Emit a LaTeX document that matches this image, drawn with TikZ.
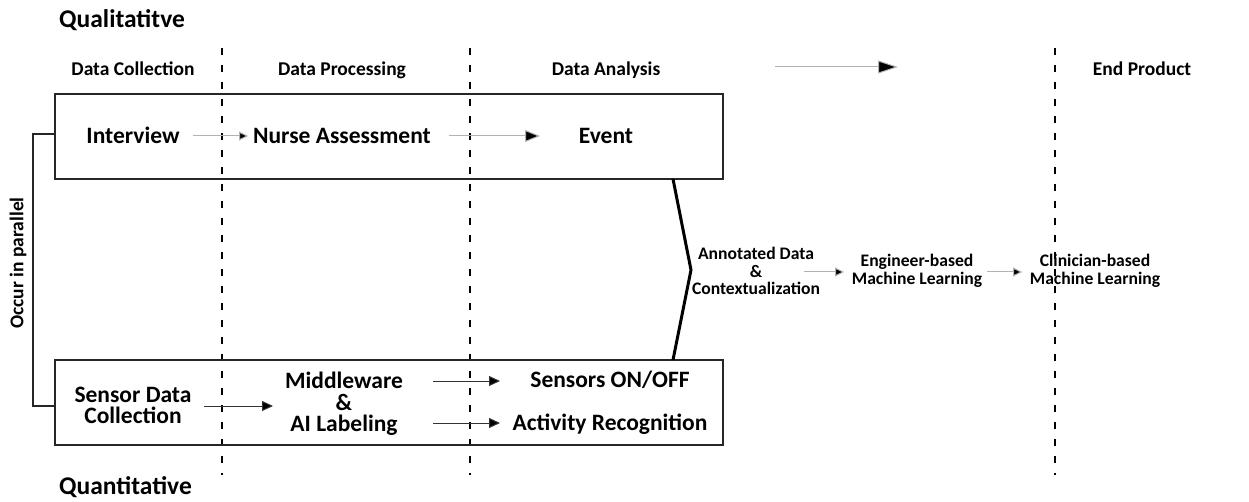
\documentclass[tikz,border=0pt]{standalone}
\usepackage{fontspec}
\setmainfont{Carlito}
\usetikzlibrary{arrows.meta}
\begin{document}
\begin{tikzpicture}[x=1pt,y=-1pt,
  big/.style={font=\bfseries\fontsize{23.5}{21.5}\selectfont, inner sep=0pt, align=center},
  col/.style={font=\bfseries\fontsize{19.5}{20}\selectfont, inner sep=0pt, anchor=base},
  sm/.style={font=\bfseries\fontsize{17.6}{17.7}\selectfont, inner sep=0pt, align=center},
  title/.style={font=\bfseries\fontsize{25.5}{26}\selectfont, inner sep=0pt, anchor=base west},
  sep/.style={line width=2pt, dash pattern=on 7pt off 10pt},
  box/.style={draw=black!85, line width=1.6pt},
  garr/.style={draw=black!30, line width=1pt, -{Triangle[length=9pt,width=9pt,fill=black]}},
  garrbig/.style={draw=black!30, line width=1pt, -{Triangle[length=15pt,width=12pt,fill=black]}},
  garrtop/.style={draw=black!30, line width=1pt, -{Triangle[length=20pt,width=13pt,fill=black]}},
  darr/.style={draw=black!80, line width=1pt, -{Triangle[length=11pt,width=10pt,fill=black]}},
]
\useasboundingbox (0,0) rectangle (1249,502);

% separators
\coordinate (s1t) at (222,48); \coordinate (s1b) at (222,475);
\coordinate (s2t) at (470,48); \coordinate (s2b) at (470,475);
\coordinate (s3t) at (1055,48); \coordinate (s3b) at (1055,475);
\draw[sep] (s1t) -- (s1b);
\draw[sep] (s2t) -- (s2b);
\draw[sep] (s3t) -- (s3b);

% boxes
\node[box, minimum width=668pt, minimum height=85pt, inner sep=0pt] (qual) at (389,136.5) {};
\node[box, minimum width=668pt, minimum height=85pt, inner sep=0pt] (quan) at (389,402.5) {};

% titles
\node[title] (tq) at (59,28) {Qualitatitve};
\node[title] (tn) at (59,494) {Quantitative};

% column labels
\node[col] (c1) at (133,76) {Data Collection};
\node[col] (c2) at (342,76) {Data Processing};
\node[col] (c3) at (606,76) {Data Analysis};
\node[col] (c4) at (1142,76) {End Product};
\coordinate (ta) at (775,67);
\coordinate (tb) at (898,67);
\draw[garrtop] (ta) -- (tb);

% top row
\node[big, anchor=base] (int) at (133,144) {Interview};
\node[big, anchor=base] (nur) at (342,144) {Nurse Assessment};
\node[big, anchor=base] (evt) at (606,144) {Event};
\draw[garr] (193,136) -- (248,136);
\draw[garrbig] (449,136) -- (540,136);

% bottom row
\node[big] (sen) at (133,405.5) {Sensor Data\\Collection};
\node[big] (mid) at (344,404) {Middleware\\\&\\AI Labeling};
\node[big, anchor=base] (son) at (610,387) {Sensors ON/OFF};
\node[big, anchor=base] (act) at (610,430) {Activity Recognition};
\draw[darr] (204,406) -- (273,406);
\draw[darr] (433,381) -- (500,381);
\draw[darr] (433,423) -- (500,423);

% occur in parallel
\coordinate (p1) at (33,134);
\coordinate (p2) at (33,406);
\draw[line width=1.6pt, black!85] (qual.west |- p1) -- (p1) -- (p2) -- (quan.west |- p2);
\node[font=\bfseries\fontsize{19.5}{20}\selectfont, inner sep=0pt, rotate=90] (occ) at (18,263) {Occur in parallel};

% brace
\coordinate (b1) at (673,179);
\coordinate (b2) at (691,270);
\coordinate (b3) at (673,360);
\draw[line width=3pt, line join=miter] (b1) -- (b2) -- (b3);

% right part
\node[sm] (ann) at (756,271) {Annotated Data\\\&\\Contextualization};
\node[sm] (eng) at (917,271) {Engineer-based\\Machine Learning};
\node[sm] (cli) at (1095,271) {Clinician-based\\Machine Learning};
\draw[garr] (804,272) -- (844,272);
\draw[garr] (987,272) -- (1022,272);
\end{tikzpicture}
\end{document}
